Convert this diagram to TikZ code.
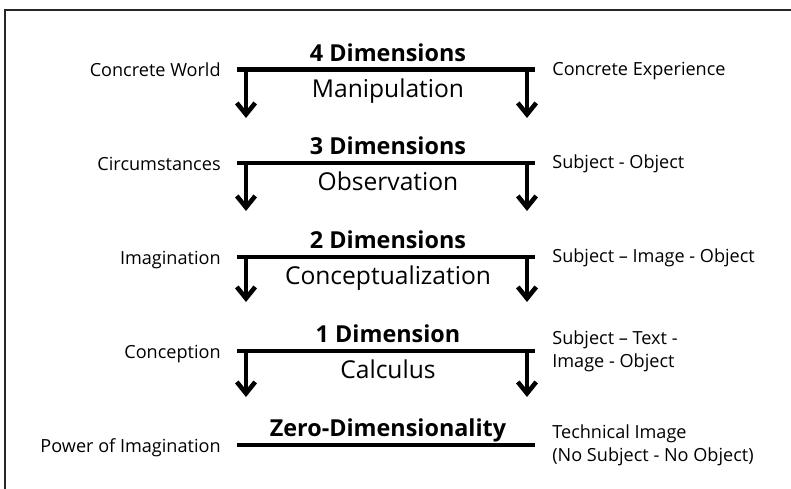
\documentclass[tikz,border=0pt]{standalone}
\usepackage{fontspec}
\setmainfont{Open Sans}
\usetikzlibrary{arrows.meta,calc}

\tikzset{
  bar/.style={line width=2.7pt},
  down/.style={line width=2.6pt, -{Straight Barb[length=6.5pt,width=10.5pt]}},
  dimtitle/.style={font=\fontsize{13.3}{15}\selectfont\bfseries, anchor=base, inner sep=0pt},
  dimsub/.style={font=\fontsize{14}{16}\selectfont, anchor=base, inner sep=0pt},
  side/.style={font=\fontsize{10.3}{13}\selectfont, inner sep=0pt},
}

\begin{document}
\begin{tikzpicture}[x=0.02cm, y=0.02cm]
  \useasboundingbox (0,0) rectangle (791,489);
  \draw [line width=0.6pt, black!85] (5,0) -- (5,479) -- (791,479);

  % bars
  \coordinate (a1) at (237,419.5); \coordinate (b1) at (535,419.5);
  \coordinate (a2) at (237,326);   \coordinate (b2) at (535,326);
  \coordinate (a3) at (237,232);   \coordinate (b3) at (535,232);
  \coordinate (a4) at (237,138);   \coordinate (b4) at (535,138);
  \coordinate (a5) at (237,44);    \coordinate (b5) at (535,44);
  \draw [bar] (a1) -- (b1);
  \draw [bar] (a2) -- (b2);
  \draw [bar] (a3) -- (b3);
  \draw [bar] (a4) -- (b4);
  \draw [bar] (a5) -- (b5);

  % arrows
  \coordinate (l1) at (246,419.5); \coordinate (l1e) at (246,371);
  \coordinate (r1) at (527,419.5); \coordinate (r1e) at (527,371);
  \coordinate (l2) at (246,326);   \coordinate (l2e) at (246,278);
  \coordinate (r2) at (527,326);   \coordinate (r2e) at (527,278);
  \coordinate (l3) at (246,232);   \coordinate (l3e) at (246,187);
  \coordinate (r3) at (527,232);   \coordinate (r3e) at (527,187);
  \coordinate (l4) at (246,138);   \coordinate (l4e) at (246,92);
  \coordinate (r4) at (527,138);   \coordinate (r4e) at (527,92);
  \draw [down] (l1) -- (l1e);
  \draw [down] (r1) -- (r1e);
  \draw [down] (l2) -- (l2e);
  \draw [down] (r2) -- (r2e);
  \draw [down] (l3) -- (l3e);
  \draw [down] (r3) -- (r3e);
  \draw [down] (l4) -- (l4e);
  \draw [down] (r4) -- (r4e);

  % dimensions
  \node [dimtitle] (dim4) at ($(a1)!0.5!(b1)+(2,8)$) {4 Dimensions};
  \node [dimsub] (manip) at ($(a1)!0.5!(b1)+(2,-28)$) {Manipulation};
  \node [dimtitle] (dim3) at ($(a2)!0.5!(b2)+(2,8)$) {3 Dimensions};
  \node [dimsub] (obs) at ($(a2)!0.5!(b2)+(2,-28)$) {Observation};
  \node [dimtitle] (dim2) at ($(a3)!0.5!(b3)+(2,8)$) {2 Dimensions};
  \node [dimsub] (concept) at ($(a3)!0.5!(b3)+(2,-28)$) {Conceptualization};
  \node [dimtitle] (dim1) at ($(a4)!0.5!(b4)+(2,8)$) {1 Dimension};
  \node [dimsub] (calc) at ($(a4)!0.5!(b4)+(2,-28)$) {Calculus};
  \node [dimtitle] (dim0) at ($(a5)!0.5!(b5)+(2,8)$) {Zero-Dimensionality};

  % left side
  \node [side, anchor=base east] (world) at ($(a1)+(-16,-7.5)$) {Concrete World};
  \node [side, anchor=base east] (circ) at ($(a2)+(-16,-7.5)$) {Circumstances};
  \node [side, anchor=base east] (imag) at ($(a3)+(-16,-7.5)$) {Imagination};
  \node [side, anchor=base east] (conc) at ($(a4)+(-16,-7.5)$) {Conception};
  \node [side, anchor=base east] (power) at ($(a5)+(-16,-7.5)$) {Power of Imagination};

  % right side
  \node [side, anchor=base west] (exp) at ($(b1)+(17,-6)$) {Concrete Experience};
  \node [side, anchor=base west] (subobj) at ($(b2)+(17,-6)$) {Subject - Object};
  \node [side, anchor=base west] (subimg) at ($(b3)+(17,-6)$) {Subject – Image - Object};
  \node [side, anchor=west, align=left] (subtxt) at ($(b4)+(17,0)$) {Subject – Text -\\Image - Object};
  \node [side, anchor=west, align=left] (tech) at ($(b5)+(17,0)$) {Technical Image\\(No Subject - No Object)};
\end{tikzpicture}
\end{document}
